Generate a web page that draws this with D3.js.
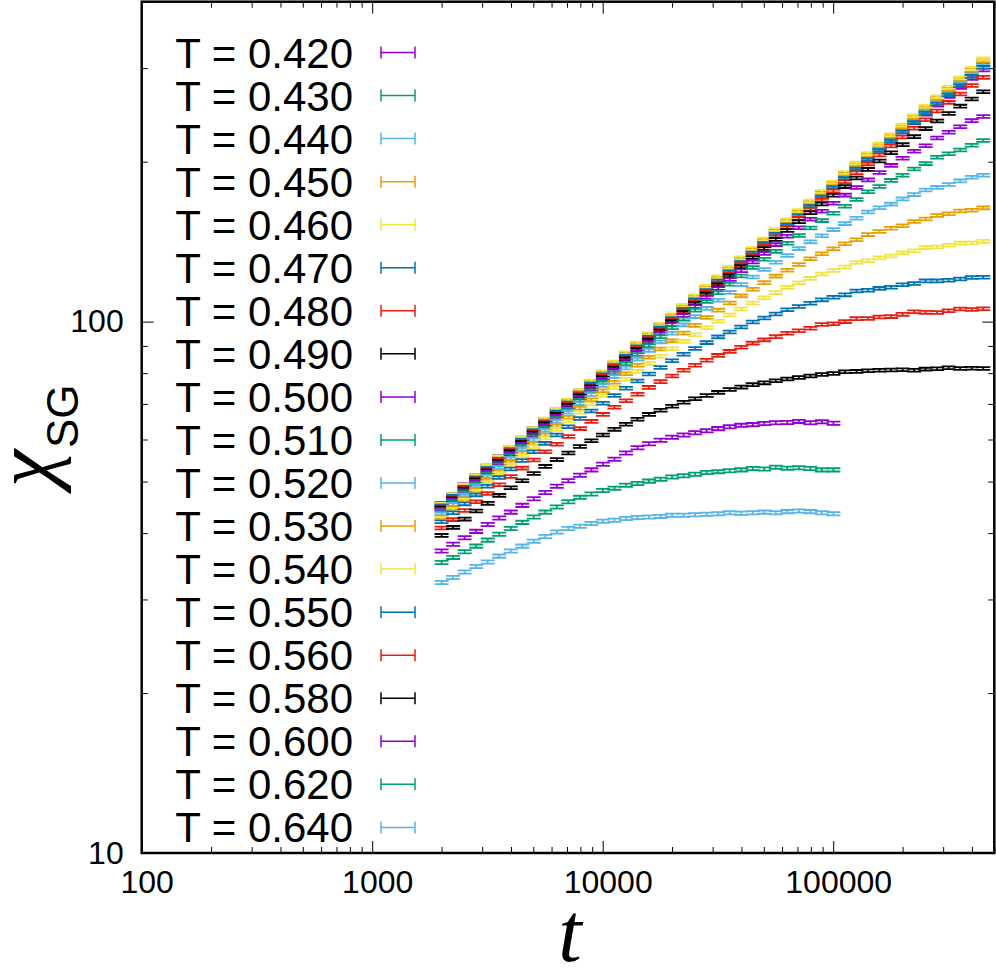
<!DOCTYPE html>
<html>
<head>
<meta charset="utf-8">
<script src="https://cdn.jsdelivr.net/npm/d3@7"></script>
<style>
  body { margin: 0; background: #fff; }
  svg { display: block; }
</style>
</head>
<body>
<div id="chart"></div>
<script>
// time grid shared by all runs
let tValues = [2000, 2244, 2518, 2825, 3170, 3557, 3991, 4477, 5024, 5637,
  6325, 7096, 7962, 8934, 10024, 11247, 12619, 14159, 15887, 17825,
  20000, 22440, 25179, 28251, 31698, 35566, 39905, 44774, 50238, 56368,
  63246, 70963, 79621, 89337, 100237, 112468, 126191, 141589, 158866, 178250,
  200000, 224404, 251785, 282508, 316979, 355656, 399052, 447744];

let temps = ["0.420", "0.430", "0.440", "0.450", "0.460", "0.470", "0.480", "0.490", "0.500",
  "0.510", "0.520", "0.530", "0.540", "0.550", "0.560", "0.580", "0.600", "0.620", "0.640"];

// chi_SG per temperature
let chi420 = [45.5, 47.3, 49.3, 51.3, 53.5, 55.7, 58.0, 60.4, 62.9, 65.5, 68.2, 71.0, 74.0, 77.0, 80.2, 83.5, 87.0, 90.6, 94.3, 98.2, 102.3, 106.5, 110.9, 115.5, 120.3, 125.2, 130.3, 135.6, 141.2, 146.9, 152.8, 159.0, 165.5, 172.3, 179.3, 186.6, 194.1, 202.0, 210.1, 218.5, 227.4, 236.4, 245.7, 255.4, 265.4, 275.9, 286.8, 297.5];
let chi430 = [45.3, 47.1, 49.1, 51.2, 53.2, 55.4, 57.8, 60.1, 62.6, 65.2, 67.9, 70.8, 73.6, 76.7, 79.9, 83.2, 86.6, 90.2, 94.0, 97.8, 101.9, 106.1, 110.5, 115.1, 119.8, 124.8, 130.0, 135.3, 140.9, 146.8, 152.8, 159.2, 165.7, 172.6, 179.7, 187.2, 194.9, 203.0, 211.4, 220.1, 229.3, 238.8, 248.6, 258.9, 269.6, 280.8, 292.4, 304.3];
let chi440 = [45.4, 47.3, 49.2, 51.3, 53.4, 55.6, 57.9, 60.3, 62.8, 65.4, 68.1, 70.9, 73.9, 76.9, 80.1, 83.4, 86.9, 90.5, 94.2, 98.1, 102.2, 106.4, 110.8, 115.4, 120.2, 125.2, 130.4, 135.8, 141.9, 147.2, 153.3, 159.7, 166.3, 173.2, 180.3, 187.8, 196.1, 203.7, 212.1, 220.9, 230.0, 239.6, 249.5, 259.2, 270.5, 281.7, 293.4, 305.6];
let chi450 = [45.3, 47.2, 49.2, 51.2, 53.4, 55.6, 57.9, 60.3, 62.8, 65.5, 68.2, 71.0, 74.0, 77.1, 80.3, 83.7, 87.2, 90.8, 94.6, 98.6, 102.6, 106.9, 111.3, 116.0, 120.8, 125.9, 131.2, 136.6, 142.3, 148.3, 154.5, 160.9, 167.6, 174.6, 181.9, 189.5, 197.4, 205.6, 214.2, 223.1, 232.5, 242.2, 252.3, 262.9, 273.8, 285.2, 297.2, 309.5];
let chi460 = [45.3, 47.2, 49.2, 51.3, 53.4, 55.6, 58.0, 60.4, 62.9, 65.6, 68.3, 71.2, 74.2, 77.3, 80.5, 83.9, 87.4, 91.1, 94.9, 98.9, 103.0, 107.3, 111.8, 116.5, 121.4, 126.5, 131.8, 137.3, 143.1, 149.1, 155.4, 161.9, 168.7, 175.7, 183.1, 190.8, 198.8, 207.1, 215.8, 224.8, 234.3, 244.1, 254.3, 265.0, 276.1, 287.7, 299.7, 312.3];
let chi470 = [45.0, 46.9, 48.8, 50.8, 52.9, 55.1, 57.4, 59.8, 62.3, 64.8, 67.5, 70.3, 73.2, 76.3, 79.4, 82.7, 86.1, 89.7, 93.4, 97.3, 101.3, 105.5, 109.9, 114.4, 119.2, 124.1, 129.2, 134.6, 140.2, 146.0, 151.9, 158.2, 164.7, 171.5, 178.6, 186.0, 193.7, 201.6, 209.9, 218.6, 227.5, 236.9, 246.6, 256.8, 267.3, 278.0, 289.4, 301.2];
let chi480 = [44.8, 46.7, 48.6, 50.6, 52.7, 54.9, 57.2, 59.5, 62.0, 64.6, 67.2, 70.0, 72.9, 75.9, 79.1, 82.4, 85.7, 89.3, 92.9, 96.7, 100.7, 104.8, 109.1, 113.6, 118.2, 123.1, 128.1, 133.4, 138.8, 144.5, 150.4, 156.5, 162.9, 169.4, 176.2, 183.3, 190.6, 198.1, 205.9, 214.1, 222.5, 231.1, 239.9, 249.1, 258.6, 268.2, 278.1, 288.2];
let chi490 = [44.6, 46.4, 48.4, 50.4, 52.4, 54.6, 56.9, 59.2, 61.7, 64.2, 66.9, 69.6, 72.5, 75.4, 78.5, 81.8, 85.1, 88.6, 92.3, 96.0, 100.0, 104.0, 108.3, 112.7, 117.3, 122.0, 126.9, 132.0, 137.3, 142.8, 148.4, 154.2, 160.3, 166.5, 172.9, 179.5, 186.4, 193.4, 200.5, 207.9, 215.3, 222.9, 230.8, 238.6, 246.5, 254.4, 262.4, 270.7];
let chi500 = [44.3, 46.1, 48.0, 50.0, 52.1, 54.2, 56.4, 58.8, 61.2, 63.7, 66.3, 69.0, 71.9, 74.8, 77.8, 81.0, 84.3, 87.7, 91.3, 94.9, 98.8, 102.7, 106.8, 111.1, 115.4, 120.0, 124.7, 129.5, 134.4, 139.6, 144.8, 150.2, 155.8, 161.3, 167.0, 173.0, 178.8, 184.8, 190.9, 196.8, 203.0, 209.2, 214.2, 221.6, 227.1, 232.7, 238.9, 243.2];
let chi510 = [44.0, 45.8, 47.7, 49.6, 51.7, 53.8, 56.0, 58.3, 60.7, 63.1, 65.7, 68.4, 71.2, 74.1, 77.0, 80.1, 83.3, 86.7, 90.1, 93.7, 97.4, 101.1, 105.1, 109.1, 113.3, 117.6, 121.9, 126.4, 131.0, 135.6, 140.4, 145.2, 150.0, 154.9, 160.0, 164.9, 169.8, 175.6, 179.6, 184.4, 188.6, 193.7, 198.3, 203.9, 207.0, 210.4, 214.8, 219.2];
let chi520 = [43.5, 45.3, 47.2, 49.1, 51.1, 53.2, 55.3, 57.6, 59.9, 62.4, 64.9, 67.5, 70.1, 72.9, 75.8, 78.8, 81.8, 85.0, 88.3, 91.6, 95.1, 98.6, 102.2, 105.9, 109.7, 113.5, 117.4, 121.3, 125.3, 129.3, 133.2, 137.2, 141.3, 145.1, 149.0, 152.9, 156.5, 160.8, 163.8, 166.4, 170.2, 173.4, 176.9, 178.9, 181.2, 184.0, 187.0, 188.5];
let chi530 = [42.9, 44.6, 46.4, 48.3, 50.3, 52.3, 54.4, 56.6, 58.9, 61.2, 63.6, 66.1, 68.7, 71.3, 74.1, 76.9, 79.8, 82.8, 85.7, 88.8, 92.0, 95.2, 98.4, 101.8, 105.1, 108.4, 111.8, 115.1, 118.4, 121.8, 124.9, 128.1, 131.3, 134.2, 137.1, 140.1, 142.6, 145.8, 147.8, 149.9, 151.5, 154.3, 156.0, 158.4, 159.6, 161.5, 162.0, 163.7];
let chi540 = [42.6, 44.3, 46.1, 47.9, 49.8, 51.8, 53.8, 55.9, 58.1, 60.4, 62.7, 65.0, 67.5, 70.0, 72.6, 75.2, 77.9, 80.6, 83.4, 86.1, 88.9, 91.8, 94.5, 97.4, 100.2, 102.9, 105.6, 108.4, 110.9, 113.4, 116.0, 118.3, 120.6, 122.9, 124.8, 126.7, 129.2, 130.2, 131.8, 132.9, 134.7, 135.9, 137.8, 138.2, 139.2, 140.5, 140.6, 141.6];
let chi550 = [42.0, 43.7, 45.4, 47.2, 49.0, 50.9, 52.8, 54.8, 56.9, 59.0, 61.2, 63.4, 65.7, 67.9, 70.2, 72.6, 74.9, 77.3, 79.7, 82.0, 84.4, 86.8, 89.0, 91.3, 93.6, 95.6, 97.7, 99.8, 101.6, 103.4, 105.3, 106.8, 108.3, 109.9, 111.1, 112.3, 114.2, 114.6, 115.5, 116.1, 117.3, 118.0, 119.3, 119.3, 119.6, 120.3, 121.1, 121.2];
let chi560 = [40.9, 42.4, 44.1, 45.8, 47.5, 49.3, 51.1, 53.0, 54.9, 56.9, 58.8, 60.8, 62.9, 64.9, 66.9, 69.0, 71.0, 73.0, 75.2, 77.1, 79.0, 81.0, 82.8, 84.6, 86.4, 87.9, 89.5, 91.1, 92.4, 93.7, 95.1, 96.1, 97.2, 98.8, 99.1, 100.0, 101.3, 101.4, 102.0, 102.2, 103.2, 104.4, 104.1, 104.0, 104.8, 105.6, 105.4, 105.7];
let chi580 = [39.6, 41.0, 42.5, 44.0, 45.5, 47.1, 48.7, 50.2, 51.8, 53.4, 55.0, 56.6, 58.2, 59.7, 61.2, 62.7, 64.1, 65.5, 66.9, 68.1, 69.3, 70.5, 71.6, 72.6, 73.6, 74.5, 75.3, 76.1, 76.7, 77.4, 78.0, 78.5, 79.0, 79.5, 79.9, 80.5, 80.6, 80.8, 81.0, 81.1, 81.2, 81.0, 81.4, 81.5, 81.9, 81.6, 81.7, 81.6];
let chi600 = [37.0, 38.1, 39.2, 40.3, 41.5, 42.7, 43.8, 45.1, 46.4, 47.7, 49.0, 50.2, 51.4, 52.6, 53.9, 55.1, 56.6, 57.9, 58.9, 59.8, 60.6, 61.2, 61.8, 62.3, 62.9, 63.4, 63.8, 64.0, 64.3, 64.5, 64.6, 64.9, 64.5, 64.8, 64.4];
let chi620 = [35.2, 36.0, 36.9, 37.8, 38.8, 39.8, 40.8, 41.9, 42.9, 43.8, 44.8, 45.8, 46.7, 47.4, 48.1, 48.6, 49.2, 49.6, 50.1, 50.5, 51.0, 51.3, 51.6, 52.0, 52.2, 52.4, 52.6, 52.9, 52.8, 53.2, 53.0, 53.1, 52.9, 52.6, 52.6];
let chi640 = [32.3, 33.0, 33.8, 34.6, 35.3, 36.2, 37.0, 37.8, 38.6, 39.4, 40.2, 40.8, 41.2, 41.7, 42.1, 42.3, 42.6, 42.8, 42.9, 43.0, 43.2, 43.2, 43.3, 43.4, 43.5, 43.7, 43.6, 43.7, 43.8, 43.7, 43.9, 44.0, 43.9, 43.7, 43.5];

// relative error bar of each run
let relErr = [0.006, 0.006, 0.006, 0.006, 0.006, 0.006, 0.006, 0.006, 0.006,
  0.006, 0.006, 0.006, 0.006, 0.006, 0.006, 0.006, 0.007, 0.007, 0.007];

let chiSeries = [chi420, chi430, chi440, chi450, chi460, chi470, chi480, chi490, chi500,
  chi510, chi520, chi530, chi540, chi550, chi560, chi580, chi600, chi620, chi640];

// gnuplot default line colours, cycled
let palette = ["#9400d3", "#009e73", "#56b4e9", "#e69f00", "#f0e442", "#0072b2", "#e51e10", "#000000"];

let xTickValues = [100, 1000, 10000, 100000];
let yTickValues = [10, 100];

let svgWidth = 996;
let svgHeight = 968;
let plot = { left: 141.7, right: 994.3, top: 1.7, bottom: 853 };

let svg = d3.select("#chart")
  .append("svg")
  .attr("width", svgWidth)
  .attr("height", svgHeight);

let xScale = d3.scaleLog().domain([100, 500000]).range([plot.left, plot.right]);
let yScale = d3.scaleLog().domain([10, 400]).range([plot.bottom, plot.top]);

let isPow10 = v => Math.abs(Math.log10(v) - Math.round(Math.log10(v))) < 1e-9;
let xMinor = xScale.ticks().filter(v => !isPow10(v));
let yMinor = yScale.ticks().filter(v => !isPow10(v));

// axes: ticks point inward, mirrored on top and right
function styleAxis(g) {
  g.select(".domain").remove();
  g.selectAll("line").attr("stroke", "#000").attr("stroke-width", 1);
  g.selectAll("text")
    .attr("font-family", "'Liberation Sans', Arial, sans-serif")
    .attr("font-size", 32)
    .attr("fill", "#000");
}

svg.append("g")
  .attr("transform", `translate(0,${plot.bottom})`)
  .call(d3.axisBottom(xScale).tickValues(xTickValues).tickSize(-12).tickPadding(17).tickFormat(d3.format("d")))
  .call(styleAxis)
  .selectAll("text").attr("dx", 5);
svg.append("g")
  .attr("transform", `translate(0,${plot.bottom})`)
  .call(d3.axisBottom(xScale).tickValues(xMinor).tickSize(-6).tickFormat(""))
  .call(styleAxis);
svg.append("g")
  .attr("transform", `translate(0,${plot.top})`)
  .call(d3.axisTop(xScale).tickValues(xTickValues).tickSize(-12).tickFormat(""))
  .call(styleAxis);
svg.append("g")
  .attr("transform", `translate(0,${plot.top})`)
  .call(d3.axisTop(xScale).tickValues(xMinor).tickSize(-6).tickFormat(""))
  .call(styleAxis);

svg.append("g")
  .attr("transform", `translate(${plot.left},0)`)
  .call(d3.axisLeft(yScale).tickValues(yTickValues).tickSize(-12).tickPadding(18).tickFormat(d3.format("d")))
  .call(styleAxis);
svg.append("g")
  .attr("transform", `translate(${plot.left},0)`)
  .call(d3.axisLeft(yScale).tickValues(yMinor).tickSize(-6).tickFormat(""))
  .call(styleAxis);
svg.append("g")
  .attr("transform", `translate(${plot.right},0)`)
  .call(d3.axisRight(yScale).tickValues(yTickValues).tickSize(-12).tickFormat(""))
  .call(styleAxis);
svg.append("g")
  .attr("transform", `translate(${plot.right},0)`)
  .call(d3.axisRight(yScale).tickValues(yMinor).tickSize(-6).tickFormat(""))
  .call(styleAxis);

// clip for the data
svg.append("clipPath")
  .attr("id", "plotClip")
  .append("rect")
  .attr("x", plot.left)
  .attr("y", plot.top)
  .attr("width", plot.right - plot.left)
  .attr("height", plot.bottom - plot.top);

let capHalf = 7;
function errorBarPath(cx, yHi, yLo) {
  return `M${cx - capHalf},${yHi}H${cx + capHalf}M${cx},${yHi}V${yLo}M${cx - capHalf},${yLo}H${cx + capHalf}`;
}

let dataGroup = svg.append("g").attr("clip-path", "url(#plotClip)");

chiSeries.forEach(function(values, i) {
  let points = values.map((c, j) => ({ t: tValues[j], chi: c, err: c * relErr[i] }));
  dataGroup.append("g")
    .attr("fill", "none")
    .attr("stroke", palette[i % palette.length])
    .attr("stroke-width", 1.8)
    .selectAll("path")
    .data(points)
    .enter()
    .append("path")
    .attr("d", d => errorBarPath(xScale(d.t), yScale(d.chi + d.err), yScale(d.chi - d.err)));
});

// frame
svg.append("rect")
  .attr("x", plot.left)
  .attr("y", plot.top)
  .attr("width", plot.right - plot.left)
  .attr("height", plot.bottom - plot.top)
  .attr("fill", "none")
  .attr("stroke", "#000")
  .attr("stroke-width", 2.5);

// key
let keyY = d3.scaleLinear().domain([0, temps.length - 1]).range([52.5, 827.4]);
let key = svg.append("g");
temps.forEach(function(T, i) {
  let ky = keyY(i);
  key.append("text")
    .attr("x", 353)
    .attr("y", ky + 15)
    .attr("text-anchor", "end")
    .attr("font-family", "'Liberation Sans', Arial, sans-serif")
    .attr("font-size", 42)
    .text(`T = ${T}`);
  key.append("path")
    .attr("d", `M381,${ky}H415M381,${ky - 6}V${ky + 6}M415,${ky - 6}V${ky + 6}`)
    .attr("fill", "none")
    .attr("stroke", palette[i % palette.length])
    .attr("stroke-width", 1.5);
});

// axis titles
svg.append("text")
  .attr("x", 570)
  .attr("y", 961)
  .attr("text-anchor", "middle")
  .attr("font-family", "'Liberation Serif', 'Times New Roman', serif")
  .attr("font-style", "italic")
  .attr("font-size", 84)
  .text("t");

let yTitle = svg.append("text")
  .attr("transform", "translate(53,487) rotate(-90)");
yTitle.append("tspan")
  .attr("font-family", "'Liberation Serif', 'Times New Roman', serif")
  .attr("font-style", "italic")
  .attr("font-size", 84)
  .text("χ");
yTitle.append("tspan")
  .attr("font-family", "'Liberation Sans', Arial, sans-serif")
  .attr("font-size", 44)
  .attr("dy", 25)
  .attr("dx", 2)
  .text("SG");
</script>
</body>
</html>
